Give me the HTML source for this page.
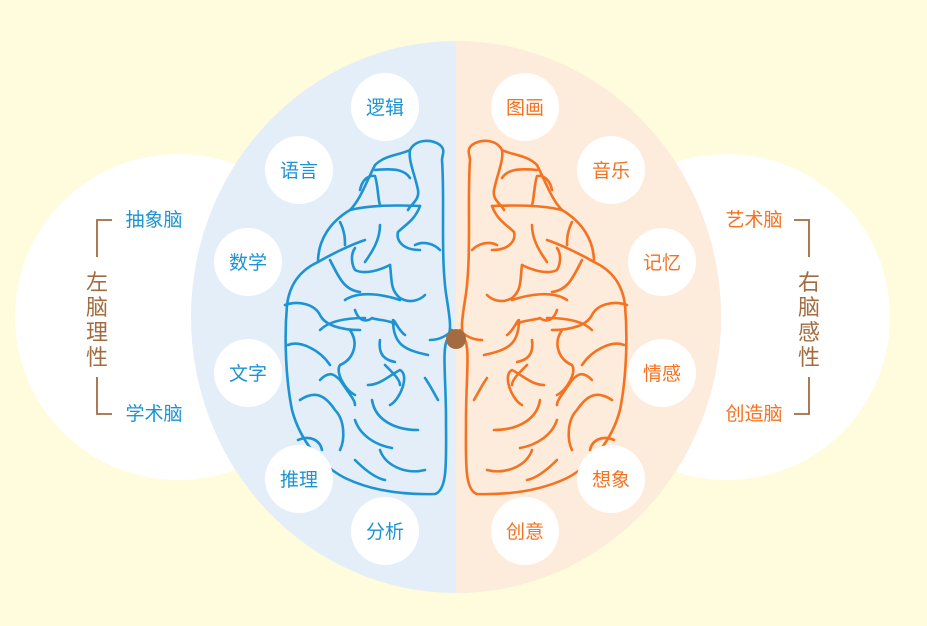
<!DOCTYPE html>
<html><head><meta charset="utf-8"><style>
body{margin:0;background:#fefcdc;}
svg{display:block}
text{font-family:"Liberation Sans","Noto Sans CJK SC",sans-serif;}
</style></head><body>
<svg width="927" height="626" viewBox="0 0 927 626" xmlns="http://www.w3.org/2000/svg">
<rect width="927" height="626" fill="#fefcdc"/>
<circle cx="178" cy="317" r="163" fill="#fff"/>
<circle cx="727" cy="317" r="163" fill="#fff"/>
<defs><clipPath id="L"><rect x="0" y="0" width="456" height="626"/></clipPath>
<g id="brain" fill="none" stroke-width="2.6" stroke-linecap="round" stroke-linejoin="round">
<path d="M442,160 C445,200 440,260 447,300 C450,320 452,330 447,340 C442,350 446,380 446,420 C446,460 448,490 435,494 C400,495 370,490 345,478 C320,465 300,440 292,410 C286,380 284,340 287,305 C290,280 305,268 318,262 C318,240 330,222 350,210 C360,200 365,185 375,165 C385,155 400,155 410,150 C415,140 430,138 440,145 C446,150 442,155 442,160Z"/>
<path d="M410,150 C408,160 415,175 418,190 C420,200 410,205 408,210"/>
<path d="M375,170 C395,168 405,170 410,178"/>
<path d="M360,190 C362,180 368,175 375,176 C378,185 378,200 380,205"/>
<path d="M350,210 C370,205 395,205 420,206"/>
<path d="M340,222 C345,232 345,240 345,245"/>
<path d="M318,262 C330,255 350,245 365,240"/>
<path d="M420,206 C415,220 405,225 398,232 C396,240 402,250 420,250"/>
<path d="M380,225 C380,240 372,252 365,262"/>
<path d="M355,248 C350,255 352,265 355,270 C365,275 380,270 390,265"/>
<path d="M330,260 C340,280 345,290 360,292"/>
<path d="M390,265 C392,280 390,290 400,298 C410,304 420,300 425,295"/>
<path d="M415,245 C425,240 435,245 440,250"/>
<path d="M285,305 C300,300 315,305 320,315 C325,325 340,330 360,330"/>
<path d="M345,300 C360,290 385,295 400,300"/>
<path d="M355,310 C360,325 370,320 372,318 C375,320 390,320 395,324"/>
<path d="M320,330 C330,320 350,318 365,318"/>
<path d="M350,330 C360,345 352,360 340,365 C335,372 345,390 355,395"/>
<path d="M405,335 C398,330 395,320 393,320 C393,345 405,350 428,355"/>
<path d="M380,340 C378,355 385,360 395,362"/>
<path d="M430,340 C440,340 448,335 452,330"/>
<path d="M288,345 C300,340 320,350 330,365"/>
<path d="M385,365 C395,375 400,380 400,385"/>
<path d="M320,380 C330,370 335,375 340,380"/>
<path d="M368,385 C380,385 390,375 400,370 C410,375 400,400 390,405"/>
<path d="M300,400 C315,390 325,395 335,410 C345,420 345,440 340,450"/>
<path d="M340,380 C350,395 355,400 355,405"/>
<path d="M425,378 C430,385 435,395 438,400"/>
<path d="M372,400 C375,420 395,430 418,430"/>
<path d="M355,420 C360,435 375,445 392,448"/>
<path d="M380,450 C385,465 405,475 425,470"/>
<path d="M298,440 C310,435 320,440 322,450"/>
<path d="M355,460 C365,470 375,478 385,480"/>
</g></defs>
<ellipse cx="456" cy="317" rx="265" ry="276" fill="#e3eef8"/>
<path d="M456,41 A265,276 0 0 1 456,593 Z" fill="#fdebdc"/>
<g clip-path="url(#L)"><use href="#brain" stroke="#1c93d2"/></g>
<g transform="translate(912,0) scale(-1,1)"><use href="#brain" stroke="#f47220"/></g>
<circle cx="456" cy="339" r="10" fill="#a26c40"/>
<g fill="#fff">
<circle cx="385" cy="107" r="34"/><circle cx="299" cy="170" r="34"/><circle cx="248" cy="262" r="34"/><circle cx="248" cy="373" r="34"/><circle cx="299" cy="479" r="34"/><circle cx="385" cy="531" r="34"/>
<circle cx="525" cy="107" r="34"/><circle cx="611" cy="170" r="34"/><circle cx="662" cy="262" r="34"/><circle cx="662" cy="373" r="34"/><circle cx="611" cy="479" r="34"/><circle cx="525" cy="531" r="34"/>
</g>
<g font-size="19" text-anchor="middle" fill="#1c93d2">
<text x="385" y="114">逻辑</text><text x="299" y="177">语言</text><text x="248" y="269">数学</text><text x="248" y="380">文字</text><text x="299" y="486">推理</text><text x="385" y="538">分析</text>
<text x="154" y="226">抽象脑</text><text x="154" y="420">学术脑</text>
</g>
<g font-size="19" text-anchor="middle" fill="#f47220">
<text x="525" y="114">图画</text><text x="611" y="177">音乐</text><text x="662" y="269">记忆</text><text x="662" y="380">情感</text><text x="611" y="486">想象</text><text x="525" y="538">创意</text>
<text x="754" y="226">艺术脑</text><text x="754" y="420">创造脑</text>
</g>
<g stroke="#a26c40" stroke-width="1.8" fill="none">
<path d="M112,220 H97 V257"/><path d="M97,377 V414 H112"/>
<path d="M794,220 H809 V257"/><path d="M809,377 V414 H794"/>
</g>
<g font-size="22" text-anchor="middle" fill="#a26c40">
<text x="97" y="290">左</text><text x="97" y="315">脑</text><text x="97" y="340">理</text><text x="97" y="365">性</text>
<text x="809" y="290">右</text><text x="809" y="315">脑</text><text x="809" y="340">感</text><text x="809" y="365">性</text>
</g>
</svg>
</body></html>
